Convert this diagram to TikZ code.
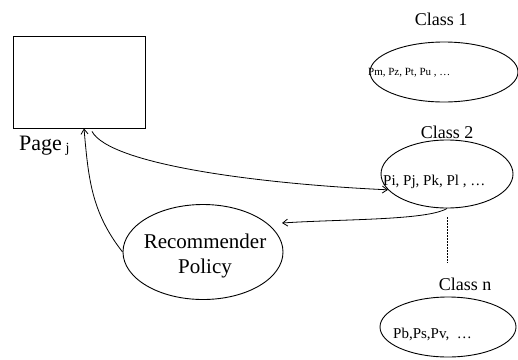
\documentclass[tikz,border=0pt]{standalone}
\usepackage{fontspec}
\setmainfont{Liberation Serif}
\usetikzlibrary{arrows.meta,shapes.geometric}

\begin{document}
\begin{tikzpicture}[x=1pt, y=-1pt, >={Straight Barb[length=5pt,width=7pt]},
      every node/.append style={inner sep=0pt, font=\fontsize{18}{20}\selectfont},
      set/.style={draw, ellipse, line width=0.9pt},
      items/.style={anchor=base west}]
    \tikzstyle{link} = [->, line width=0.8pt]
    \tikzstyle{title} = [anchor=base]
    \useasboundingbox (0,0) rectangle (518,359);
    % page and its name
    \node (page) [draw, line width=0.9pt, minimum width=132pt, minimum height=92pt] at (79,82) {};
    \node (pagename) [anchor=base west, font=\fontsize{22}{24}\selectfont] at (19,150)
      {Page\,\raisebox{-2pt}{\fontsize{14}{14}\selectfont j}};
    % classes
    \node (class1) [title] at (441,25) {Class 1};
    \node (c1) [set, minimum width=148pt, minimum height=60pt] at (444,72) {};
    \node (c1items) [items, font=\fontsize{11}{12}\selectfont] at (368,75) {Pm, Pz, Pt, Pu , \dots};
    \node (class2) [title] at (447,138) {Class 2};
    \node (c2) [set, minimum width=132pt, minimum height=68pt] at (447,174) {};
    \node (c2items) [items, font=\fontsize{15}{16}\selectfont] at (383,185) {Pi, Pj, Pk, Pl , \dots};
    \node (classn) [title] at (465,290) {Class n};
    \node (cn) [set, minimum width=136pt, minimum height=60pt] at (448,327) {};
    \node (cnitems) [items, font=\fontsize{15}{16}\selectfont] at (393,338) {Pb,Ps,Pv, \ \dots};
    % policy
    \node (rec) [set, minimum width=160pt, minimum height=95pt] at (203,252) {};
    \node (rectext) [align=center, font=\fontsize{21}{25}\selectfont] at (205,256) {Recommender\\Policy};
    \coordinate (recin) at (282,223);
    % connectors
    \draw[link] ([xshift=13pt,yshift=-3pt]page.south) .. controls +(18,33) and +(-130,-6) .. (c2.195);
    \draw[link] (c2.south) .. controls +(-20,12) and +(60,-4) .. (recin);
    \draw[link] (rec.west) to[out=128,in=-85] ([xshift=5pt]page.south);
    \draw[dashed, line width=0.8pt, dash pattern=on 2pt off 1pt] ([yshift=-9pt]c2.south) -- ([yshift=14pt]classn.north -| c2.south);
\end{tikzpicture}
\end{document}
